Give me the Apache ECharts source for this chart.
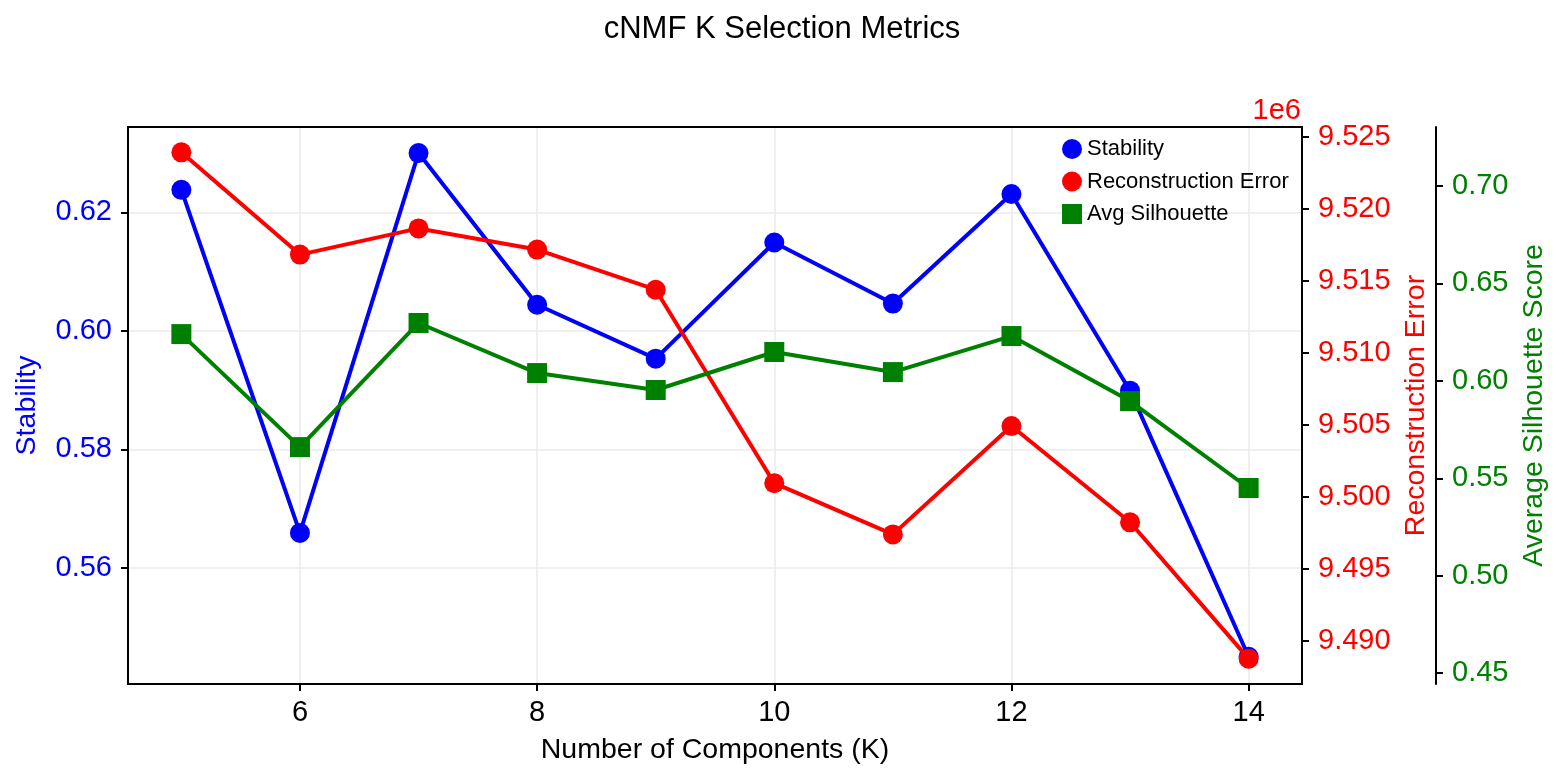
<!DOCTYPE html>
<html>
<head>
<meta charset="utf-8">
<script src="https://cdn.jsdelivr.net/npm/echarts@6/dist/echarts.min.js"></script>
<style>
html,body{margin:0;padding:0;background:#fff;}
#chart{width:1564px;height:781px;}
</style>
</head>
<body>
<div id="chart"></div>
<script>
// ---- data ----
const kValues = [5, 6, 7, 8, 9, 10, 11, 12, 13, 14];
const stability = [0.6238, 0.5659, 0.6300, 0.6044, 0.5953, 0.6149, 0.6046, 0.6231, 0.5899, 0.5450];
const reconError = [9523950, 9516840, 9518660, 9517190, 9514400, 9500950, 9497390, 9504920, 9498230, 9488750];
const silhouette = [0.6240, 0.5660, 0.6297, 0.6040, 0.5953, 0.6148, 0.6045, 0.6230, 0.5896, 0.5450];
const xTicks = [6, 8, 10, 12, 14];
const stabilityTicks = [0.56, 0.58, 0.60, 0.62];
const reconTicks = [9490000, 9495000, 9500000, 9505000, 9510000, 9515000, 9520000, 9525000];
const silTicks = [0.45, 0.50, 0.55, 0.60, 0.65, 0.70];
const seriesNames = ['Stability', 'Reconstruction Error', 'Avg Silhouette'];

const FONT = '"Liberation Sans", Arial, Helvetica, sans-serif';
const chart = echarts.init(document.getElementById('chart'));
const pairs = arr => kValues.map((k, i) => [k, arr[i]]);
const tick = {show: true, inside: false, length: 7, lineStyle: {color: '#000', width: 2}};
const axisLine = {show: true, onZero: false, lineStyle: {color: '#000', width: 2}};

const option = {
  animation: false,
  backgroundColor: '#fff',
  textStyle: {fontFamily: FONT},
  title: {
    text: 'cNMF K Selection Metrics',
    left: 'center', top: 14, padding: 0,
    textStyle: {fontFamily: FONT, fontSize: 31, fontWeight: 'normal', color: '#000'}
  },
  legend: {
    orient: 'vertical', left: 1062, top: 138, padding: 0,
    itemWidth: 20, itemHeight: 20, itemGap: 10.5,
    textStyle: {fontFamily: FONT, fontSize: 22, color: '#000'},
    data: [
      {name: seriesNames[0], icon: 'circle'},
      {name: seriesNames[1], icon: 'circle'},
      {name: seriesNames[2], icon: 'rect'}
    ]
  },
  graphic: [{
    type: 'text', right: 263, top: 96,
    style: {text: '1e6', fill: '#ff0000', fontSize: 29, fontFamily: FONT}
  }],
  grid: {left: 128, right: 262, top: 127, bottom: 97, show: true, borderColor: '#000', borderWidth: 2, backgroundColor: 'transparent'},
  xAxis: [
    {
      type: 'value', position: 'bottom', min: 4.55, max: 14.45,
      axisLine: axisLine,
      axisTick: Object.assign({customValues: xTicks}, tick),
      axisLabel: {customValues: xTicks, fontSize: 29, color: '#000', margin: 14, fontFamily: FONT},
      splitLine: {show: true, lineStyle: {color: '#ebebeb', width: 1.5}},
      name: 'Number of Components (K)', nameLocation: 'middle', nameGap: 52,
      nameTextStyle: {fontSize: 28.5, color: '#000', fontFamily: FONT}
    },
    {
      type: 'value', position: 'top', min: 4.55, max: 14.45,
      axisLine: axisLine,
      axisTick: {show: false}, axisLabel: {show: false}, splitLine: {show: false}
    }
  ],
  yAxis: [
    {
      type: 'value', position: 'left', min: 0.5404, max: 0.6344,
      axisLine: axisLine,
      axisTick: Object.assign({customValues: stabilityTicks}, tick),
      axisLabel: {customValues: stabilityTicks, fontSize: 29, color: '#0000ff', margin: 16, fontFamily: FONT,
                  formatter: v => v.toFixed(2)},
      splitLine: {show: true, lineStyle: {color: '#ebebeb', width: 1.5}},
      name: 'Stability', nameLocation: 'middle', nameRotate: 90, nameGap: 86,
      nameTextStyle: {fontSize: 28.5, color: '#0000ff', fontFamily: FONT}
    },
    {
      type: 'value', position: 'right', offset: 0, min: 9486990, max: 9525710,
      axisLine: axisLine,
      axisTick: Object.assign({customValues: reconTicks}, tick),
      axisLabel: {customValues: reconTicks, fontSize: 29, color: '#ff0000', margin: 16, fontFamily: FONT,
                  formatter: v => (v / 1e6).toFixed(3)},
      splitLine: {show: false},
      name: 'Reconstruction Error', nameLocation: 'middle', nameRotate: 90, nameGap: 99,
      nameTextStyle: {fontSize: 28.5, color: '#ff0000', fontFamily: FONT}
    },
    {
      type: 'value', position: 'right', offset: 134, min: 0.4444, max: 0.7303,
      axisLine: axisLine,
      axisTick: Object.assign({customValues: silTicks}, tick),
      axisLabel: {customValues: silTicks, fontSize: 29, color: '#008000', margin: 16, fontFamily: FONT,
                  formatter: v => v.toFixed(2)},
      splitLine: {show: false},
      name: 'Average Silhouette Score', nameLocation: 'middle', nameRotate: 90, nameGap: 82,
      nameTextStyle: {fontSize: 28.5, color: '#008000', fontFamily: FONT}
    }
  ],
  series: [
    {
      name: seriesNames[0], type: 'line', xAxisIndex: 0, yAxisIndex: 0, data: pairs(stability),
      symbol: 'circle', symbolSize: 20, z: 3,
      lineStyle: {color: '#0000ff', width: 4}, itemStyle: {color: '#0000ff'}
    },
    {
      name: seriesNames[1], type: 'line', xAxisIndex: 0, yAxisIndex: 1, data: pairs(reconError),
      symbol: 'circle', symbolSize: 20, z: 4,
      lineStyle: {color: '#ff0000', width: 4}, itemStyle: {color: '#ff0000'}
    },
    {
      name: seriesNames[2], type: 'line', xAxisIndex: 0, yAxisIndex: 2, data: pairs(silhouette),
      symbol: 'rect', symbolSize: 20, z: 5,
      lineStyle: {color: '#008000', width: 4}, itemStyle: {color: '#008000'}
    }
  ]
};
chart.setOption(option);
</script>
</body>
</html>
